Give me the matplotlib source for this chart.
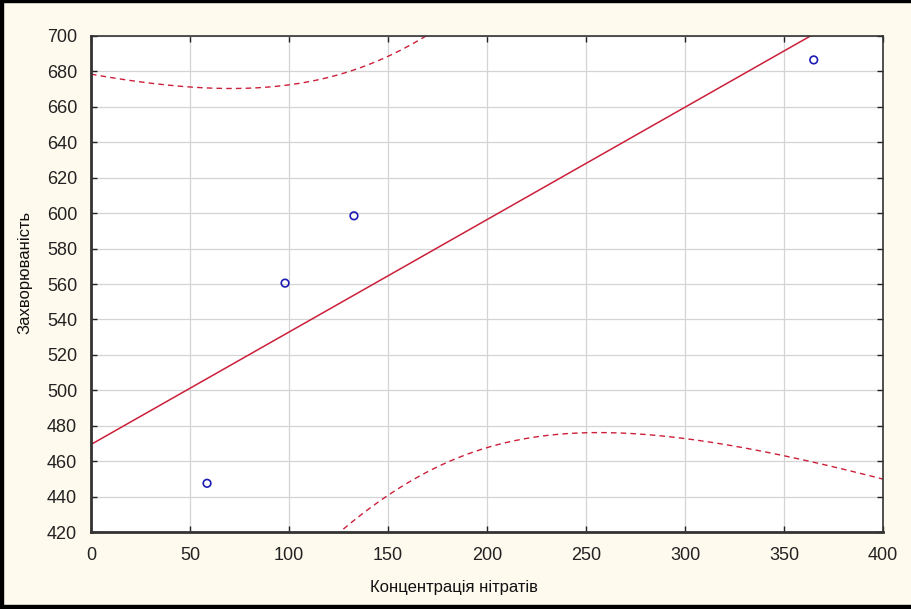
import numpy as np
import matplotlib
matplotlib.use('Agg')
import matplotlib.pyplot as plt
from matplotlib.patches import Rectangle

# data
nitrates = [58.6, 98.0, 132.8, 365.0]
morbidity = [447.5, 560.5, 598.5, 686.5]
x_ticks = [0, 50, 100, 150, 200, 250, 300, 350, 400]
y_ticks = [420, 440, 460, 480, 500, 520, 540, 560, 580, 600, 620, 640, 660, 680, 700]
x_label = 'Концентрація нітратів'
y_label = 'Захворюваність'
t_crit = 4.303  # t(0.975, df=2)

# linear fit + 95% band for the mean
x = np.array(nitrates)
y = np.array(morbidity)
n = len(x)
b, a = np.polyfit(x, y, 1)
resid = y - (a + b * x)
s = np.sqrt(np.sum(resid ** 2) / (n - 2))
sxx = np.sum((x - x.mean()) ** 2)
xx = np.linspace(0, 400, 400)
yy = a + b * xx
hw = t_crit * s * np.sqrt(1 / n + (xx - x.mean()) ** 2 / sxx)

bg = '#fffaee'
red = '#cc1f3a'
fig = plt.figure(figsize=(9.11, 6.09), dpi=100, facecolor=bg)
ax = fig.add_axes([0.0999, 0.1264, 0.8694, 0.8145])
ax.set_facecolor('white')

ax.plot(xx, yy, color=red, lw=1.1)
ax.plot(xx, yy + hw, color=red, lw=1.0, ls=(0, (4, 3)))
ax.plot(xx, yy - hw, color=red, lw=1.0, ls=(0, (4, 3)))
ax.scatter(nitrates, morbidity, s=30, facecolors='none', edgecolors='#1c1cb4', linewidths=1.2, zorder=5)

ax.set_xlim(0, 400)
ax.set_ylim(420, 700)
ax.set_xticks(x_ticks)
ax.set_yticks(y_ticks)
ax.grid(True, color='#d4d4d4', lw=0.9)
ax.set_axisbelow(True)
ax.tick_params(axis='both', direction='in', length=4, width=1, labelsize=13,
               colors='#222222', top=True, right=True)
ax.tick_params(axis='x', pad=11)
ax.tick_params(axis='y', pad=10)
for sp in ax.spines.values():
    sp.set_color('#333333')
    sp.set_linewidth(1.2)
ax.spines['left'].set_linewidth(2)
ax.spines['bottom'].set_linewidth(2)

for lab in ax.get_xticklabels() + ax.get_yticklabels():
    lab.set_family(['Liberation Sans', 'DejaVu Sans'])

fig.text(0.498, 0.036, x_label, ha='center', va='center', fontsize=12,
         family=['Liberation Sans', 'DejaVu Sans'], color='#111111')
fig.text(0.027, 0.553, y_label, ha='center', va='center', rotation=90, fontsize=12,
         family=['Liberation Sans', 'DejaVu Sans'], color='#111111')

# frame of the picture (thick left and bottom, thin top)
fig.add_artist(Rectangle((0, 0), 0.0035, 1, transform=fig.transFigure, color='black'))
fig.add_artist(Rectangle((0, 0), 1, 0.0066, transform=fig.transFigure, color='black'))
fig.add_artist(Rectangle((0, 0.9967), 1, 0.0033, transform=fig.transFigure, color='black'))

fig.savefig('out.png', dpi=100, facecolor=bg)
